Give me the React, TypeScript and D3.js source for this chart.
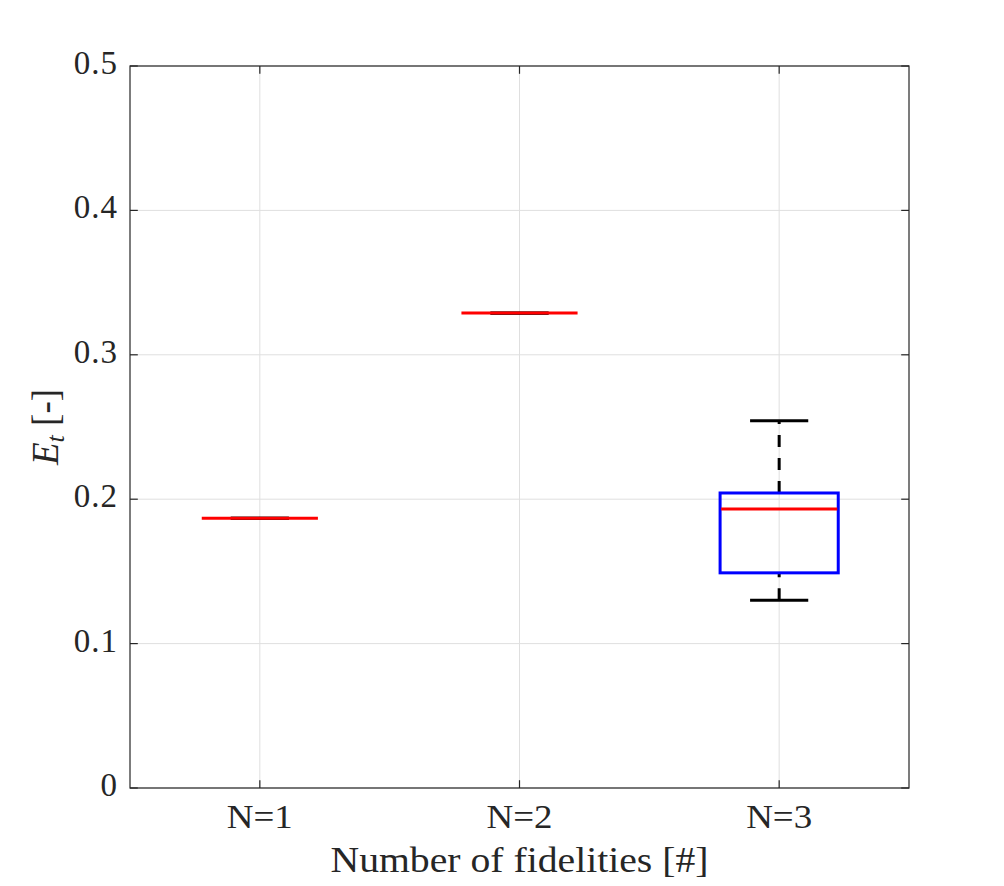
import * as d3 from "d3";

// categories and box statistics
const categories = ["N=1", "N=2", "N=3"];
const lowerWhisker = [0.1868, 0.3287, 0.13];
const q1 = [0.1868, 0.329, 0.149];
const median = [0.1868, 0.329, 0.1932];
const q3 = [0.1868, 0.329, 0.2043];
const upperWhisker = [0.1868, 0.329, 0.2543];
const yTicks = [0, 0.1, 0.2, 0.3, 0.4, 0.5];

const W = 1004;
const H = 886;
const margin = { top: 66, right: 95, bottom: 98, left: 130 };
const font = "'Liberation Serif', 'DejaVu Serif', serif";
const ink = "#262626";

export default function App() {
  const x = d3
    .scaleLinear()
    .domain([0.5, categories.length + 0.5])
    .range([margin.left, W - margin.right]);
  const y = d3
    .scaleLinear()
    .domain([0, 0.5])
    .range([H - margin.bottom, margin.top]);

  const boxHalf = 0.2275;
  const capHalf = 0.112;
  const tick = 7.8;
  const x0 = margin.left;
  const x1 = W - margin.right;
  const y0 = H - margin.bottom;
  const y1 = margin.top;

  return (
    <div style={{ position: "absolute", left: 0, top: 0 }}>
      <svg width={W} height={H} style={{ display: "block", background: "#fff" }}>
        {/* grid */}
        <g stroke="#dfdfdf" strokeWidth={1}>
          {yTicks.map((t) => (
            <line key={"gy" + t} x1={x0} x2={x1} y1={y(t)} y2={y(t)} />
          ))}
          {categories.map((c, i) => (
            <line key={"gx" + c} x1={x(i + 1)} x2={x(i + 1)} y1={y0} y2={y1} />
          ))}
        </g>

        {/* boxes */}
        {categories.map((c, i) => {
          const cx = x(i + 1);
          const bl = x(i + 1 - boxHalf);
          const br = x(i + 1 + boxHalf);
          const cl = x(i + 1 - capHalf);
          const cr = x(i + 1 + capHalf);
          return (
            <g key={c}>
              <line
                x1={cx}
                x2={cx}
                y1={y(q3[i])}
                y2={y(upperWhisker[i])}
                stroke="#000"
                strokeWidth={3}
                strokeDasharray="12,11"
              />
              <line
                x1={cx}
                x2={cx}
                y1={y(lowerWhisker[i])}
                y2={y(q1[i])}
                stroke="#000"
                strokeWidth={3}
                strokeDasharray="12,11"
              />
              <line x1={cl} x2={cr} y1={y(upperWhisker[i])} y2={y(upperWhisker[i])} stroke="#000" strokeWidth={3} />
              <line x1={cl} x2={cr} y1={y(lowerWhisker[i])} y2={y(lowerWhisker[i])} stroke="#000" strokeWidth={3} />
              <rect
                x={bl}
                y={y(q3[i])}
                width={br - bl}
                height={Math.max(0, y(q1[i]) - y(q3[i]))}
                fill="none"
                stroke="#0000ff"
                strokeWidth={3}
              />
              <line x1={bl + 1} x2={br - 1} y1={y(median[i])} y2={y(median[i])} stroke="#ff0000" strokeWidth={3} />
            </g>
          );
        })}

        {/* axes box */}
        <rect x={x0} y={y1} width={x1 - x0} height={y0 - y1} fill="none" stroke={ink} strokeWidth={1.2} />
        <g stroke={ink} strokeWidth={1.2}>
          {yTicks.map((t) => (
            <g key={"ty" + t}>
              <line x1={x0} x2={x0 + tick} y1={y(t)} y2={y(t)} />
              <line x1={x1} x2={x1 - tick} y1={y(t)} y2={y(t)} />
            </g>
          ))}
          {categories.map((c, i) => (
            <g key={"tx" + c}>
              <line x1={x(i + 1)} x2={x(i + 1)} y1={y0} y2={y0 - tick} />
              <line x1={x(i + 1)} x2={x(i + 1)} y1={y1} y2={y1 + tick} />
            </g>
          ))}
        </g>

        {/* tick labels */}
        <g fontFamily={font} fontSize={33} fill={ink}>
          {yTicks.map((t) => (
            <text key={"ly" + t} x={x0 - 12} y={y(t) + 8} textAnchor="end" letterSpacing={1}>
              {d3.format("")(t)}
            </text>
          ))}
          {categories.map((c, i) => (
            <text
              key={"lx" + c}
              x={x(i + 1)}
              y={y0 + 40}
              textAnchor="middle"
              textLength={66}
              lengthAdjust="spacingAndGlyphs"
            >
              {c}
            </text>
          ))}
        </g>

        {/* axis labels */}
        <text
          x={(x0 + x1) / 2}
          y={872}
          textAnchor="middle"
          fontFamily={font}
          fontSize={36}
          fill={ink}
          textLength={378}
          lengthAdjust="spacingAndGlyphs"
        >
          Number of fidelities [#]
        </text>
        <text
          transform={`translate(58,427) rotate(-90)`}
          textAnchor="middle"
          fontFamily={font}
          fontSize={37}
          fill={ink}
        >
          <tspan fontStyle="italic">E</tspan>
          <tspan fontStyle="italic" fontSize={26} dy={6}>
            t
          </tspan>
          <tspan dy={-6}> [-]</tspan>
        </text>
      </svg>
    </div>
  );
}
